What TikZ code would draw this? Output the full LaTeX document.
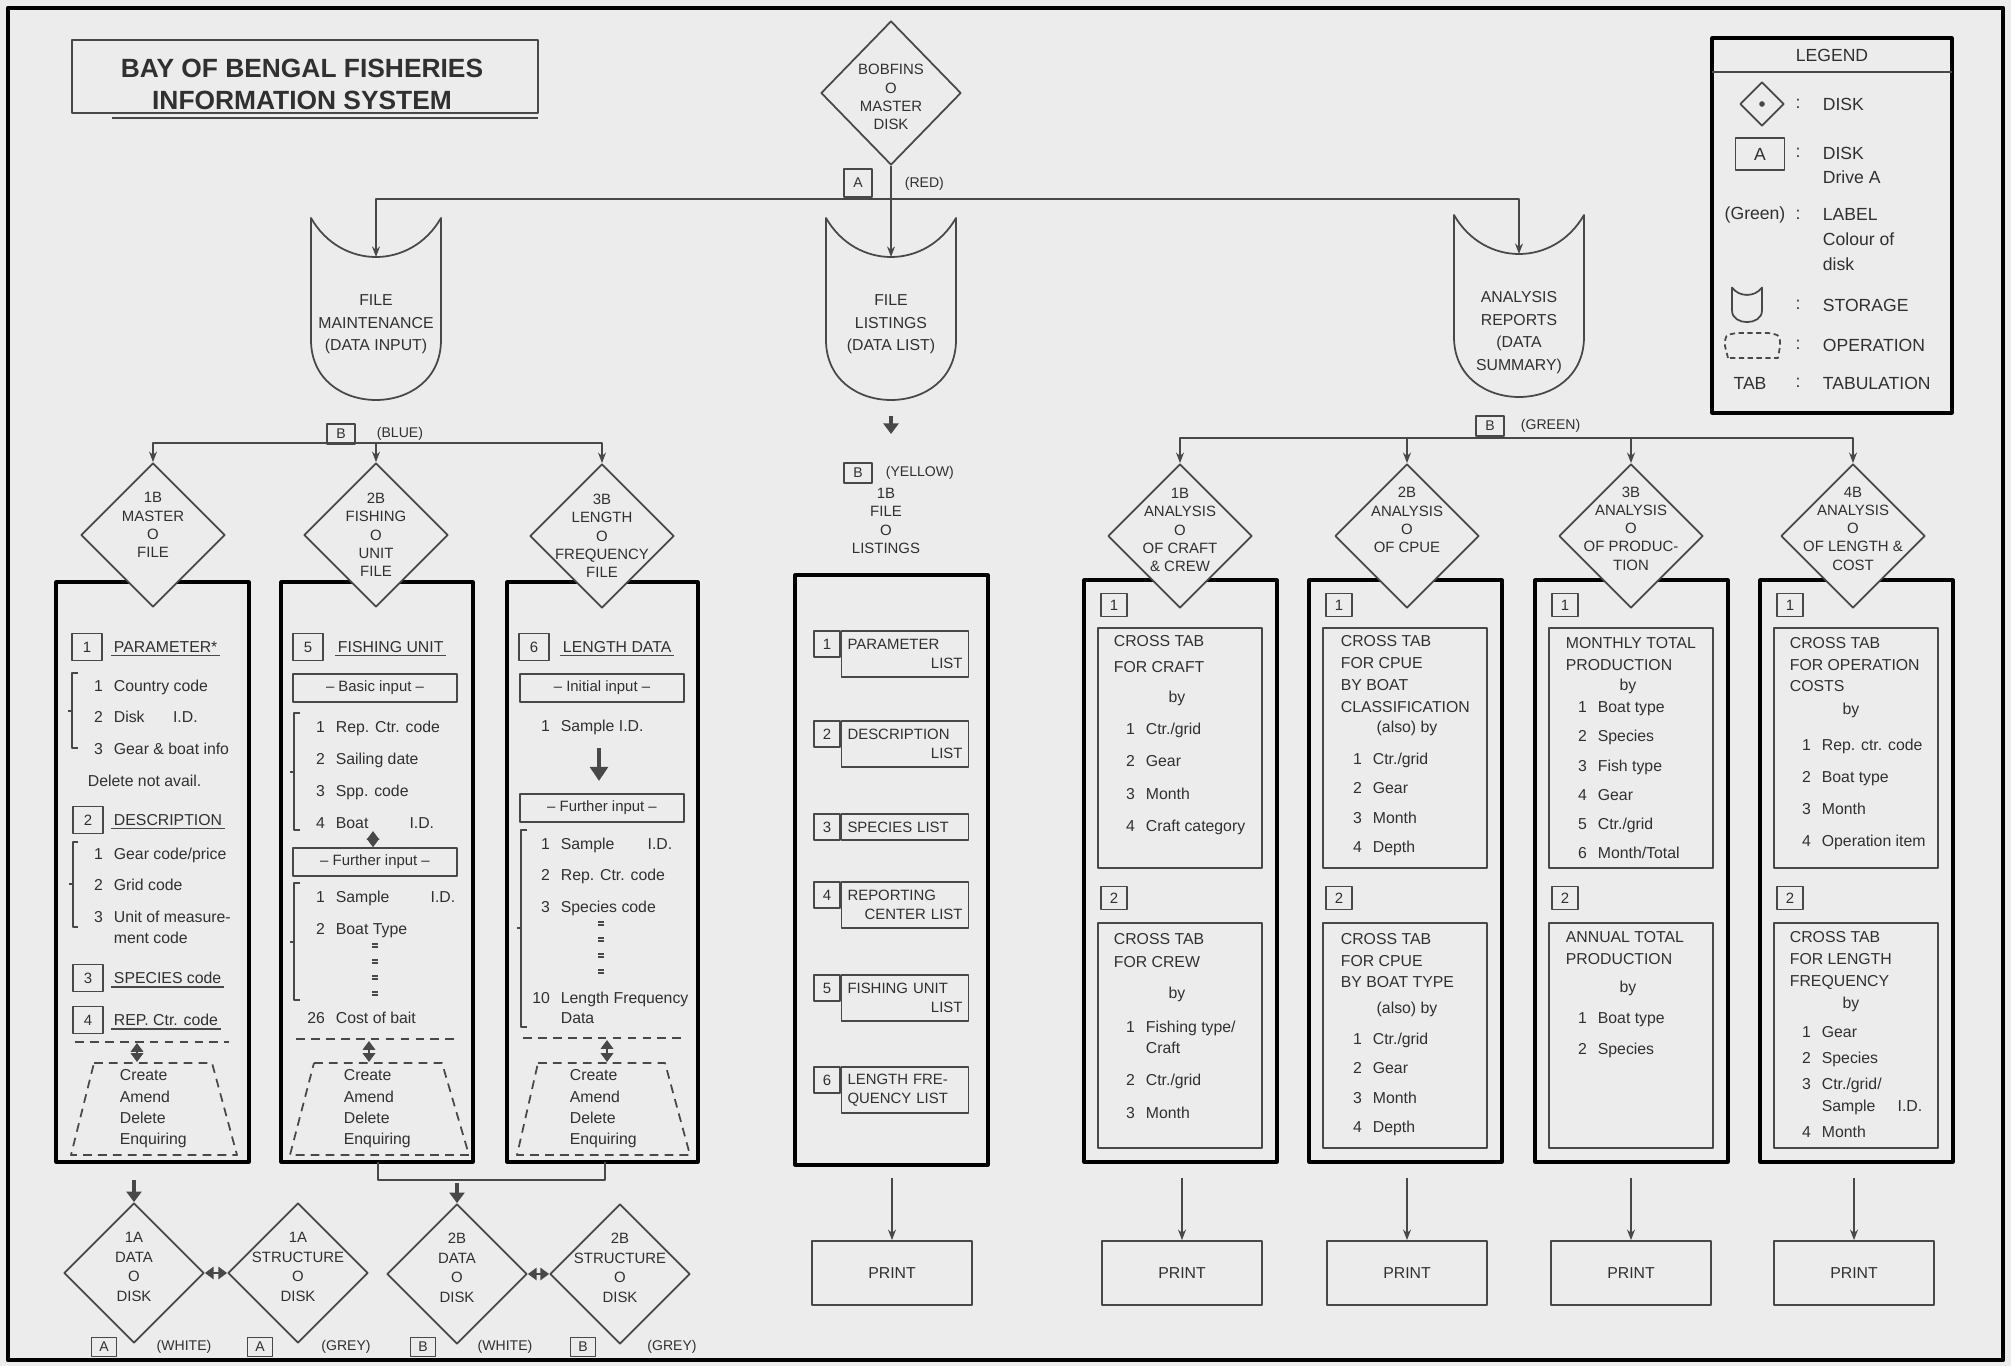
\documentclass[tikz,border=0pt]{standalone}
\usepackage{fontspec}
\setmainfont{Liberation Sans}
\usetikzlibrary{shapes.geometric,arrows.meta,positioning}
\definecolor{paper}{RGB}{236,236,236}
\definecolor{ink}{RGB}{72,72,72}
\definecolor{inktext}{RGB}{48,48,48}
\newcommand\itnum[1]{\makebox[4.2mm][l]{\makebox[2mm][r]{#1}}}
\tikzset{
  disk/.style={diamond, draw=ink, fill=paper, line width=1pt, minimum width=2.88cm, minimum height=2.88cm, inner sep=0pt},
  dtxt/.style={font=\fontsize{8.5}{10.4}\selectfont, align=center, inner sep=0pt},
  drive/.style={draw=ink, line width=.8pt, minimum width=5.6mm, minimum height=4mm, inner sep=0pt, font=\fontsize{8}{9}\selectfont},
  lbl/.style={font=\fontsize{8}{9}\selectfont, inner sep=0pt},
  numbox/.style={draw=ink, line width=.8pt, minimum width=6mm, minimum height=5.4mm, inner sep=0pt, font=\fontsize{8.5}{9}\selectfont},
  tnum/.style={numbox, minimum width=5.2mm, minimum height=4.6mm},
  head/.style={anchor=west, inner sep=1.2pt, append after command={\pgfextra{\let\hdnode\tikzlastnode} (\hdnode.south west) edge[ink, line width=1pt] (\hdnode.south east)}},
  inbox/.style={draw=ink, line width=.8pt, minimum width=3.28cm, minimum height=5.6mm, inner sep=0pt, font=\fontsize{8.5}{10}\selectfont},
  txt/.style={anchor=north west, inner sep=0pt, align=left},
  lst/.style={txt, font=\fontsize{9}{#1}\selectfont}, lst/.default=12.5pt,
  lg/.style={font=\fontsize{10}{12}\selectfont, inner sep=0pt},
  colbox/.style={draw=black, line width=1.8pt},
  frame/.style={draw=ink, line width=.9pt},
  oper/.style={draw=ink, line width=1pt, dash pattern=on 5pt off 3.5pt},
  fat/.style={line width=2.6pt, -{Triangle[length=6pt,width=8.5pt]}},
  dbl/.style={line width=1.4pt, {Triangle[length=5pt,width=7pt]}-{Triangle[length=5pt,width=7pt]}},
  printbox/.style={draw=ink, line width=1pt, minimum width=3.2cm, minimum height=1.28cm},
  listbox/.style={draw=ink, line width=.8pt, minimum width=2.54cm, text width=2.3cm, align=left, inner xsep=1.2mm, inner ysep=.8mm, font=\fontsize{8.5}{10.5}\selectfont},
  storage/.pic={
    \draw[ink, line width=1pt, fill=paper] (-65,-92) .. controls (-35,-40) and (35,-40) .. (65,-92) -- (65,30) .. controls (65,110) and (-65,110) .. (-65,30) -- cycle;
    \coordinate (-in) at (0,-53);
    \coordinate (-out) at (0,92);
    \node[align=center, anchor=north, inner sep=0pt, font=\fontsize{9}{12.8}\selectfont] (-txt) at (0,-16) {#1};
  }
}
\begin{document}
\begin{tikzpicture}[x=0.2mm, y=-0.2mm, >={Stealth[length=6pt,width=4.5pt]}, line join=round, ink, line width=1pt,
  every node/.style={text=inktext, font=\fontsize{9}{12.5}\selectfont}]
% paper and frame
\fill[paper] (0,0) rectangle (2011,1366);
\draw[black, line width=2.4pt] (8,8) rectangle (2003,1360);

% title
\draw[frame, line width=1.3pt] (72,40) rectangle (538,113);
\draw[frame] (112,118) -- (538,118);
\node[font=\bfseries\fontsize{15}{18.2}\selectfont, align=center] (title) at (302,84) {BAY OF BENGAL FISHERIES\\INFORMATION SYSTEM};

% master disk and storages
\node[disk, minimum width=2.8cm, label={[dtxt,yshift=-.8mm]center:{BOBFINS\\O\\MASTER\\DISK}}] (master) at (891,93) {};
\node[drive, minimum height=5.6mm] (ma) at (858,183) {A};
\node[lbl, anchor=west] (mared) at (904,184) {(RED)};
\coordinate (split) at (891,199);
\pic (fm) at (376,310) {storage={FILE\\MAINTENANCE\\(DATA INPUT)}};
\pic (fl) at (891,310) {storage={FILE\\LISTINGS\\(DATA LIST)}};
\pic (ar) at (1519,307) {storage={ANALYSIS\\REPORTS\\(DATA\\SUMMARY)}};
\draw[->] (master.south) -- (fl-in);
\draw[->] (split) -| (fm-in);
\draw[->] (split) -| (ar-in);

\node[drive] (fmb) at (341,434) {B};
\node[lbl, anchor=west] (fmbl) at (376,434) {(BLUE)};
\node[drive] (arb) at (1490,426) {B};
\node[lbl, anchor=west] (arbl) at (1520,426) {(GREEN)};
\coordinate (bsplit) at (376,443);
\coordinate (gsplit) at (1519,438);

% file listings
\coordinate (fla) at (891,416);
\coordinate (flb) at (891,434);
\draw[fat] (fla) -- (flb);
\node[drive] (flbx) at (858,473) {B};
\node[lbl, anchor=west] (flbl) at (885,473) {(YELLOW)};
\node[dtxt] (flname) at (886,521) {1B\\FILE\\O\\LISTINGS};

% column boxes
\draw[colbox] (56,582) rectangle (249,1162);
\draw[colbox] (281,582) rectangle (473,1162);
\draw[colbox] (507,582) rectangle (698,1162);
\draw[colbox] (795,575) rectangle (988,1165);
\foreach \L/\c in {1084/1,1309/2,1535/3,1760/4}{
  \draw[colbox] (\L,580) rectangle (\L+193,1162);
  \node[tnum] (t\c a) at (\L+30,605) {1};
  \draw[frame] (\L+14,628) rectangle (\L+178,868);
  \node[tnum] (t\c b) at (\L+30,898) {2};
  \draw[frame] (\L+14,923) rectangle (\L+178,1148);
}

% input files
\node[disk, label={[dtxt,yshift=2mm]center:{1B\\MASTER\\O\\FILE}}] (mf) at (153,535) {};
\node[disk, label={[dtxt]center:{2B\\FISHING\\O\\UNIT\\FILE}}] (fu) at (376,535) {};
\node[disk, label={[dtxt]center:{3B\\LENGTH\\O\\FREQUENCY\\FILE}}] (lf) at (602,536) {};
\draw[->] (bsplit) -| (mf.north);
\draw[->] (bsplit) -- (fu.north);
\draw[->] (bsplit) -| (lf.north);

% analysis files
\node[disk, label={[dtxt,yshift=1.2mm]center:{1B\\ANALYSIS\\O\\OF CRAFT\\\& CREW}}] (ac) at (1180,536) {};
\node[disk, label={[dtxt,yshift=3.2mm]center:{2B\\ANALYSIS\\O\\OF CPUE}}] (acp) at (1407,536) {};
\node[disk, label={[dtxt,yshift=1.5mm]center:{3B\\ANALYSIS\\O\\OF PRODUC-\\TION}}] (apr) at (1631,536) {};
\node[disk, label={[dtxt,yshift=1.5mm]center:{4B\\ANALYSIS\\O\\OF LENGTH \&\\COST}}] (alc) at (1853,536) {};
\foreach \dk in {ac,acp,apr,alc} \draw[->] (gsplit) -| (\dk.north);

% master file
\node[numbox] (pn1) at (87,647) {1};
\node[head] (ph1) at (111,647) {PARAMETER*};
\node[lst=17.9pt] (pl1) at (92,679) {\itnum{1}Country code\\\itnum{2}Disk\hspace{1.8em}I.D.\\\itnum{3}Gear \& boat info};
\draw (78,673) -| (72,748) -- (78,748) (72,711) -- (68,711);
\node[txt] (pd) at (87,774) {Delete not avail.};
\node[numbox] (pn2) at (88,820) {2};
\node[head] (ph2) at (111,820) {DESCRIPTION};
\node[lst=17.9pt] (pl2) at (92,847) {\itnum{1}Gear code/price\\\itnum{2}Grid code\\\itnum{3}Unit of measure-\\[-6pt]\itnum{}ment code};
\draw (78,842) -| (73,927) -- (78,927) (73,884) -- (69,884);
\node[numbox] (pn3) at (88,978) {3};
\node[head] (ph3) at (111,978) {SPECIES code};
\node[numbox] (pn4) at (88,1020) {4};
\node[head] (ph4) at (111,1020) {REP. Ctr. code};
\draw[oper] (75,1042) -- (229,1042);
\coordinate (po1) at (137,1043); \coordinate (po2) at (137,1062);
\draw[dbl] (po1) -- (po2);
\draw[oper] (94,1063) -- (212,1063) -- (237,1155) -- (71,1155) -- cycle;
\node[lst=12pt] (pop) at (119,1069) {Create\\Amend\\Delete\\Enquiring};

% fishing unit file
\node[numbox] (fn5) at (308,647) {5};
\node[head] (fh5) at (335,647) {FISHING UNIT};
\node[inbox] (fb) at (375,688) {-- Basic input --};
\node[lst=18.2pt] (fl1) at (314,720) {\itnum{1}Rep. Ctr. code\\\itnum{2}Sailing date\\\itnum{3}Spp. code\\\itnum{4}Boat\hspace{2.6em}I.D.};
\draw (300,713) -| (294,830) -- (300,830) (294,772) -- (290,772);
\node[inbox] (ff) at (375,862) {-- Further input --};
\coordinate (fa1) at (373,831);
\draw[dbl] (fa1) -- (fa1 |- ff.north);
\node[lst=18.2pt] (fl2) at (314,890) {\itnum{1}Sample\hspace{2.6em}I.D.\\\itnum{2}Boat Type};
\draw (300,883) -| (294,1000) -- (300,1000) (294,942) -- (290,942);
\foreach \y in {944,960,976,992} \draw[line width=.6pt] (372,\y) -- (378,\y) (372,\y+3) -- (378,\y+3);
\node[lst=12pt] (fl3) at (314,1011) {\itnum{26}Cost of bait};
\draw[oper] (296,1039) -- (456,1039);
\coordinate (fo1) at (369,1041); \coordinate (fo2) at (369,1062);
\draw[dbl] (fo1) -- (fo2);
\draw[oper] (314,1063) -- (442,1063) -- (469,1155) -- (290,1155) -- cycle;
\node[lst=12pt] (fop) at (343,1069) {Create\\Amend\\Delete\\Enquiring};

% length frequency file
\node[numbox] (ln6) at (534,647) {6};
\node[head] (lh6) at (560,647) {LENGTH DATA};
\node[inbox] (li) at (602,688) {-- Initial input --};
\node[lst=12pt] (ll1) at (539,719) {\itnum{1}Sample I.D.};
\node[inbox] (lfi) at (602,808) {-- Further input --};
\coordinate (la) at (599,748); \coordinate (lb) at (599,781);
\draw[fat, -{Triangle[length=8pt,width=10pt]}] (la) -- (lb);
\node[lst=17.9pt] (ll2) at (539,837) {\itnum{1}Sample\hspace{2.1em}I.D.\\\itnum{2}Rep. Ctr. code\\\itnum{3}Species code};
\draw (527,830) -| (521,1027) -- (527,1027) (521,928) -- (517,928);
\foreach \y in {922,938,954,970} \draw[line width=.6pt] (598,\y) -- (604,\y) (598,\y+3) -- (604,\y+3);
\node[lst=11.4pt] (ll3) at (539,991) {\itnum{10}Length Frequency\\\itnum{}Data};
\draw[oper] (523,1038) -- (681,1038);
\coordinate (lo1) at (607,1040); \coordinate (lo2) at (607,1062);
\draw[dbl] (lo1) -- (lo2);
\draw[oper] (538,1063) -- (665,1063) -- (690,1155) -- (517,1155) -- cycle;
\node[lst=12pt] (lop) at (569,1069) {Create\\Amend\\Delete\\Enquiring};

% data and structure disks
\tikzset{bdisk/.style={disk, minimum width=2.8cm, minimum height=2.8cm}}
\node[bdisk, label={[dtxt,font=\fontsize{8.5}{11.2}\selectfont,yshift=1.2mm]center:{1A\\DATA\\O\\DISK}}] (d1a) at (134,1273) {};
\node[bdisk, label={[dtxt,font=\fontsize{8.5}{11.2}\selectfont,yshift=1.2mm]center:{1A\\STRUCTURE\\O\\DISK}}] (s1a) at (298,1273) {};
\node[bdisk, label={[dtxt,font=\fontsize{8.5}{11.2}\selectfont,yshift=1.2mm]center:{2B\\DATA\\O\\DISK}}] (d2b) at (457,1274) {};
\node[bdisk, label={[dtxt,font=\fontsize{8.5}{11.2}\selectfont,yshift=1.2mm]center:{2B\\STRUCTURE\\O\\DISK}}] (s2b) at (620,1274) {};
\draw[dbl] (d1a.east) -- (s1a.west);
\draw[dbl] (d2b.east) -- (s2b.west);
\coordinate (b1) at (134,1180);
\draw[fat] (b1) -- (d1a.north);
\coordinate (bm) at (457,1180);
\draw (378,1162) |- (bm) -| (605,1162);
\coordinate (b2) at (457,1183);
\draw[fat] (b2) -- (d2b.north);
\foreach \x/\dr/\lx/\lab [count=\i] in {104/A/184/(WHITE), 260/A/346/(GREY), 423/B/505/(WHITE), 583/B/672/(GREY)}{
  \node[drive, minimum width=5mm, minimum height=3.8mm] (dl\i) at (\x,1347) {\dr};
  \node[lbl] (dt\i) at (\lx,1347) {\lab};
}

% listings
\foreach \yt/\h/\n/\t in {631/46/1/{PARAMETER\\\hspace*{\fill}LIST}, 721/46/2/{DESCRIPTION\\\hspace*{\fill}LIST}, 814/26/3/{SPECIES LIST}, 882/46/4/{REPORTING\\\hspace*{\fill}CENTER LIST}, 975/46/5/{FISHING UNIT\\\hspace*{\fill}LIST}, 1067/46/6/{LENGTH FRE-\\QUENCY LIST}}{
  \node[numbox, minimum width=5.2mm, minimum height=5.2mm] (ln\n) at (827,\yt+13) {\n};
  \node[listbox, minimum height=\h*0.2mm] (lt\n) at (905,\yt+\h/2) {\t};
}

% craft and crew
\node[lst=14.8pt] (c1t) at (1113,635) {CROSS TAB\\FOR CRAFT};
\node (c1b) at (1177,698) {by};
\node[lst=18.4pt] (c1l) at (1124,722) {\itnum{1}Ctr./grid\\\itnum{2}Gear\\\itnum{3}Month\\\itnum{4}Craft category};
\node[lst=13pt] (c2t) at (1113,933) {CROSS TAB\\FOR CREW};
\node (c2b) at (1177,994) {by};
\node[lst=18.4pt] (c2l) at (1124,1020) {\itnum{1}Fishing type/\\[-6.4pt]\itnum{}Craft\\\itnum{2}Ctr./grid\\\itnum{3}Month};

% cpue
\node[lst=12.5pt] (u1t) at (1340,635) {CROSS TAB\\FOR CPUE\\BY BOAT\\CLASSIFICATION};
\node (u1b) at (1407,728) {(also) by};
\node[lst=16.7pt] (u1l) at (1351,752) {\itnum{1}Ctr./grid\\\itnum{2}Gear\\\itnum{3}Month\\\itnum{4}Depth};
\node[lst=12.2pt] (u2t) at (1340,933) {CROSS TAB\\FOR CPUE\\BY BOAT TYPE};
\node (u2b) at (1407,1009) {(also) by};
\node[lst=16.7pt] (u2l) at (1351,1032) {\itnum{1}Ctr./grid\\\itnum{2}Gear\\\itnum{3}Month\\\itnum{4}Depth};

% production
\node[lst=12pt] (r1t) at (1565,637) {MONTHLY TOTAL\\PRODUCTION};
\node (r1b) at (1628,686) {by};
\node[lst=16.6pt] (r1l) at (1576,701) {\itnum{1}Boat type\\\itnum{2}Species\\\itnum{3}Fish type\\\itnum{4}Gear\\\itnum{5}Ctr./grid\\\itnum{6}Month/Total};
\node[lst=12.5pt] (r2t) at (1565,931) {ANNUAL TOTAL\\PRODUCTION};
\node (r2b) at (1628,988) {by};
\node[lst=17.6pt] (r2l) at (1576,1012) {\itnum{1}Boat type\\\itnum{2}Species};

% length and cost
\node[lst=12pt] (k1t) at (1789,637) {CROSS TAB\\FOR OPERATION\\COSTS};
\node (k1b) at (1851,710) {by};
\node[lst=18.2pt] (k1l) at (1800,738) {\itnum{1}Rep. ctr. code\\\itnum{2}Boat type\\\itnum{3}Month\\\itnum{4}Operation item};
\node[lst=12.5pt] (k2t) at (1789,931) {CROSS TAB\\FOR LENGTH\\FREQUENCY};
\node (k2b) at (1851,1004) {by};
\node[lst=14.8pt] (k2l) at (1800,1026) {\itnum{1}Gear\\\itnum{2}Species\\\itnum{3}Ctr./grid/\\[-2.8pt]\itnum{}Sample\hspace{1.4em}I.D.\\\itnum{4}Month};

% print
\foreach \x/\n in {892/0, 1182/1, 1407/2, 1631/3, 1854/4}{
  \node[printbox] (pr\n) at (\x,1273) {PRINT};
  \coordinate (pa\n) at (\x,1178);
  \draw[->] (pa\n) -- (pr\n.north);
}

% legend
\draw[colbox] (1712,38) rectangle (1952,413);
\draw[frame] (1712,72) -- (1952,72);
\node[lg] (lgh) at (1832,55) {LEGEND};
\node[disk, minimum width=8.8mm, minimum height=8.8mm] (lg1) at (1762,104) {};
\fill (lg1.center) circle (1.6pt);
\node[drive, minimum width=9.8mm, minimum height=6.4mm, font=\fontsize{10}{12}\selectfont] (lg2) at (1760,154) {A};
\node[lg] (lg3) at (1755,215) {(Green)};
\pic[xscale=.23, yscale=.19] (lg4) at (1747,305) {storage={}};
\draw[oper, dash pattern=on 3pt off 2pt] (1728,358) -- (1725,346) .. controls (1725,335) .. (1737,333) -- (1768,333) .. controls (1780,335) .. (1780,346) -- (1778,358) -- cycle;
\node[lg] (lg6) at (1750,383) {TAB};
\foreach \y in {104,153,215,305,345,383} \node[lg] (col\y) at (1798,\y) {:};
\node[lg, anchor=west] (lt1) at (1822,104) {DISK};
\node[lg, txt, font=\fontsize{10}{13.7}\selectfont] (lt2) at (1822,146) {DISK\\Drive A};
\node[lg, txt, font=\fontsize{10}{14.2}\selectfont] (lt3) at (1822,208) {LABEL\\Colour of\\disk};
\node[lg, anchor=west] (lt4) at (1822,305) {STORAGE};
\node[lg, anchor=west] (lt5) at (1822,345) {OPERATION};
\node[lg, anchor=west] (lt6) at (1822,383) {TABULATION};
\end{tikzpicture}
\end{document}
